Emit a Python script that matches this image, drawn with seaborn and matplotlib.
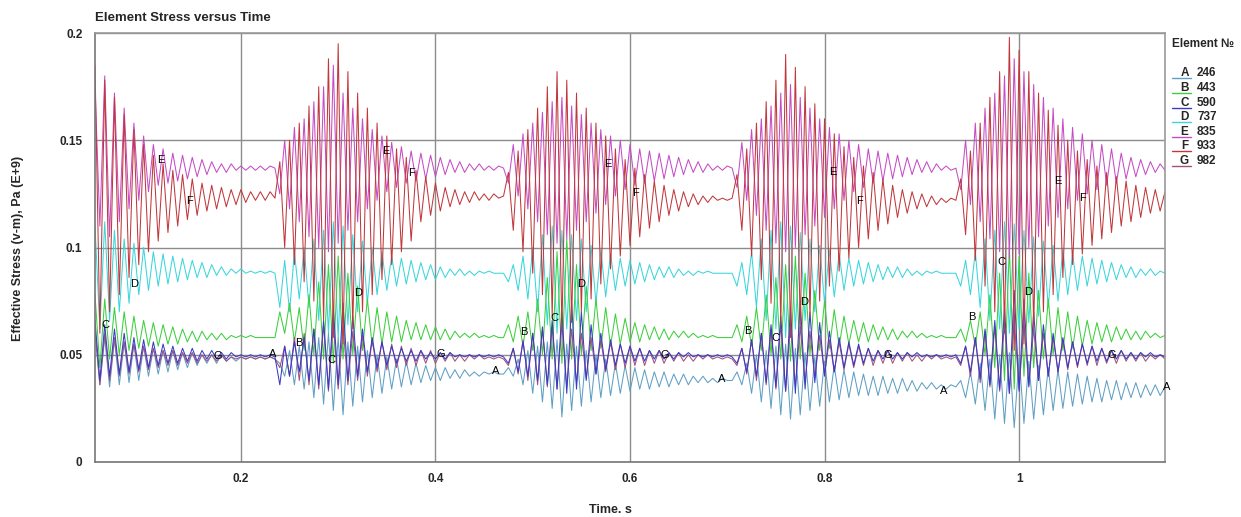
import numpy as np
import pandas as pd
import matplotlib
matplotlib.use("Agg")
import matplotlib.pyplot as plt
import seaborn as sns
from matplotlib.lines import Line2D
from matplotlib.ticker import MultipleLocator

# ---------------- data (stress in units of 1e-3 * E+9 Pa) ----------------
time = np.round(0.05 + 0.005 * np.arange(221), 4)   # sample times, s

A = [60,36,58,35,57,36,56,37,55,38, 54,40,53,41,52,42,52,43,51,44, 51,45,50,46,50,46,50,47,49,47, 49,48,49,48,49,48,49,48,
     46,40,52,36,54,34,56,30,58,27, 60,24,58,22,56,26,54,28,52,30, 50,32,49,34,48,35,47,36,
     46,37,45,38,44,38,44,39,43,39, 43,40,42,40,42,41,42,41,41,
     44,40,48,36,52,32,54,28,56,25, 57,21,55,24,54,26,52,28,50,30, 48,31,46,32,45,33,44,34,
     43,34,42,35,42,35,41,36,41,36, 40,37,40,37,39,37,39,38,38,
     42,36,46,32,50,28,52,25,54,22, 55,20,53,22,51,24,49,26,47,28, 45,29,43,30,42,31,41,31,
     40,31,40,32,39,32,39,33,38,33, 37,34,37,34,36,34,36,35,
     38,30,42,27,46,24,48,20,50,18, 51,16,49,18,47,20,45,22,44,24, 43,25,42,26,41,27,40,28,
     39,28,38,29,38,29,37,30,37,30, 36,31,36,31,35]

B = [78,44,76,48,72,50,70,52,68,53, 66,54,65,54,64,55,63,55,62,56, 61,56,61,57,60,57,60,57,59,58, 59,58,59,58,58,58,58,58,
     70,60,74,56,72,52,78,50,84,48, 92,46,96,48,88,50,82,52,76,54, 72,55,70,56,68,56,66,57,
     65,57,64,57,63,57,62,57,61,58, 60,58,60,58,59,58,59,58,58,
     64,56,68,54,70,52,76,50,86,48, 98,46,104,48,92,50,82,52,76,53, 72,54,69,55,67,56,65,56,
     64,57,63,57,62,57,61,58,61,58, 60,58,59,58,59,58,58,58,58,
     64,56,68,54,72,52,78,50,86,48, 92,47,96,48,88,50,80,52,75,53, 71,54,68,55,66,56,65,56,
     64,57,63,57,62,57,61,58,61,58, 60,58,59,58,59,58,58,58,
     62,56,66,54,70,50,78,44,88,38, 100,34,96,40,88,44,80,48,76,50, 72,52,70,53,68,54,66,55,
     65,56,64,56,63,57,62,57,61,57, 61,58,60,58,59]

C = [66,38,64,40,62,41,60,42,58,43, 57,44,56,45,55,46,54,46,53,47, 53,47,52,48,52,48,51,48,51,49, 50,49,50,49,50,49,50,49,
     36,54,40,56,42,58,38,62,36,66, 34,72,36,74,38,68,40,62,42,58, 44,56,45,54,46,53,47,52,
     47,52,48,51,48,51,48,51,49,50, 49,50,49,50,49,50,49,50,49,
     46,53,42,56,40,60,38,63,36,66, 34,70,32,74,34,70,38,64,41,60, 43,57,45,55,46,54,47,53,
     47,52,48,52,48,51,48,51,49,51, 49,50,49,50,49,50,49,50,49,
     46,53,42,57,40,60,37,64,35,68, 33,72,32,75,34,70,37,65,40,61, 42,58,44,56,45,55,46,53,
     47,52,48,52,48,51,48,51,49,51, 49,50,49,50,49,50,49,50,
     46,54,42,58,39,62,36,66,34,72, 32,80,33,76,35,70,38,64,40,60, 42,58,44,56,45,55,46,54,
     47,53,47,52,48,52,48,51,48,51, 49,51,49,50,49]

D = [110,62,112,66,108,70,104,74,102,78, 100,80,98,82,97,83,96,84,95,85, 94,86,93,86,92,87,91,87,90,88, 90,88,89,88,89,88,89,88,
     72,94,70,98,76,100,72,104,66,108, 60,112,58,110,64,106,70,103,74,100, 78,98,80,96,82,95,83,94,
     84,93,85,92,85,91,86,90,87,90, 87,89,87,89,88,89,88,88,88,
     84,92,80,96,76,100,70,106,64,110, 60,108,62,106,66,104,70,101,74,99, 77,97,80,95,82,94,83,93,
     84,92,85,91,86,91,86,90,87,89, 87,89,88,89,88,88,88,88,88,
     82,93,78,98,72,104,66,108,62,112, 58,110,62,107,66,104,70,101,74,99, 77,97,80,95,82,94,83,93,
     84,92,85,91,86,91,86,90,87,89, 87,89,88,89,88,88,88,88,
     82,94,78,98,72,104,66,108,62,112, 60,111,62,108,65,105,68,103,72,101, 75,99,78,97,80,96,82,95,
     83,94,84,93,85,92,86,91,86,90, 87,90,87,89,88]

E = [175,110,180,105,172,112,165,118,158,122, 152,126,148,129,146,130,144,131,143,132, 142,133,141,134,140,135,139,135,139,136, 138,136,138,136,138,136,138,137,
     125,150,118,156,112,160,105,168,100,175, 98,185,102,172,108,165,112,160,118,155, 122,152,126,149,128,147,130,145,
     131,144,132,143,133,142,134,141,135,140, 135,139,136,139,136,138,136,138,137,
     130,148,124,153,118,158,112,163,106,168, 102,170,104,166,108,162,112,158,116,155, 120,152,124,150,127,148,129,146,
     130,145,131,144,132,143,133,142,134,141, 135,140,135,139,136,138,136,138,137,
     128,149,122,155,115,160,108,166,102,172, 98,176,100,170,106,165,110,160,114,156, 118,153,122,150,126,148,128,146,
     130,145,131,144,132,143,133,142,134,141, 135,140,135,139,136,138,136,137,
     127,150,120,158,112,165,104,172,98,180, 95,188,97,182,100,176,105,170,110,165, 114,160,118,156,122,153,125,150,
     127,148,129,146,130,144,132,142,133,141, 134,140,135,139,136]

F = [185,60,178,70,170,78,162,86,155,92, 148,98,143,103,139,107,136,110,134,113, 132,115,130,117,129,118,128,119,127,120, 127,121,126,122,126,122,126,123,
     140,100,150,92,158,84,166,75,175,66, 188,58,195,55,182,62,172,70,165,78, 158,85,152,92,146,98,142,103,
     136,112,133,115,130,117,128,119,127,120, 126,121,126,122,125,122,125,123,124,
     135,108,145,98,155,88,165,78,175,68, 182,62,178,65,172,70,165,76,158,83, 152,90,146,96,141,101,137,105,
     134,109,131,112,129,115,127,117,126,119, 125,120,124,121,124,122,123,122,123,
     134,108,146,96,158,85,168,74,178,64, 190,58,184,62,175,68,167,75,160,82, 153,89,147,95,142,100,138,104,
     135,108,132,111,129,114,127,116,126,118, 125,119,124,120,123,121,123,122,
     132,106,145,94,158,82,170,70,182,60, 198,52,192,55,182,62,172,70,164,78, 157,86,150,92,145,97,141,101,
     138,104,135,107,133,110,131,112,129,114, 128,116,127,117,126]

G = [62,36,60,38,58,40,56,41,55,42, 54,43,53,44,52,45,52,45,51,46, 51,46,50,47,50,47,50,47,49,48, 49,48,49,48,49,48,49,48,
     44,54,40,58,38,60,36,62,34,64, 33,65,34,63,36,61,38,59,40,57, 42,56,43,55,44,54,45,53,
     45,52,46,52,46,51,47,51,47,50, 47,50,48,50,48,49,48,49,48,
     45,53,41,57,38,60,36,62,35,63, 34,64,35,62,37,60,39,58,41,57, 42,56,43,55,44,54,45,53,
     45,52,46,52,46,51,47,51,47,50, 47,50,48,50,48,49,48,49,48,
     45,53,41,57,38,60,36,62,34,64, 33,65,35,63,37,61,39,59,41,57, 42,56,43,55,44,54,45,53,
     45,52,46,52,46,51,47,51,47,50, 47,50,48,50,48,49,48,49,
     45,54,40,58,37,61,35,63,33,65, 32,66,34,64,36,62,38,60,40,58, 42,57,43,56,44,55,45,54,
     45,53,46,52,46,52,47,51,47,51, 47,50,48,50,48]

letters = ["A", "B", "C", "D", "E", "F", "G"]
element_ids = ["246", "443", "590", "737", "835", "933", "982"]
colors = ["#5f9fc4", "#3ccf3c", "#3a3ac4", "#3ad6dc", "#c64cc6", "#c0383c", "#a2507a"]

# curve letter labels (time, value)
label_t = {
    "A": [0.233, 0.462, 0.694, 0.922, 1.152],
    "B": [0.260, 0.491, 0.721, 0.951],
    "C": [0.061, 0.293, 0.522, 0.750, 0.982],
    "D": [0.090, 0.320, 0.550, 0.779, 1.009],
    "E": [0.118, 0.349, 0.577, 0.809, 1.040],
    "F": [0.147, 0.375, 0.606, 0.836, 1.065],
    "G": [0.176, 0.406, 0.636, 0.865, 1.095],
}
label_v = {
    "A": [0.0504, 0.0425, 0.0388, 0.0332, 0.0350],
    "B": [0.0556, 0.0607, 0.0612, 0.0677],
    "C": [0.0640, 0.0476, 0.0672, 0.0579, 0.0934],
    "D": [0.0831, 0.0789, 0.0831, 0.0747, 0.0794],
    "E": [0.1406, 0.1452, 0.1387, 0.1354, 0.1312],
    "F": [0.1219, 0.1345, 0.1252, 0.1219, 0.1233],
    "G": [0.0495, 0.0504, 0.0500, 0.0500, 0.0500],
}

series = {"A": A, "B": B, "C": C, "D": D, "E": E, "F": F, "G": G}
for k, v in series.items():
    assert len(v) == len(time), (k, len(v))

df = pd.concat(
    [pd.DataFrame({"t": time, "v": np.array(v) / 1000.0, "elem": k}) for k, v in series.items()],
    ignore_index=True,
)

# ---------------- figure ----------------
sns.set_style("white")
plt.rcParams["font.family"] = ["Liberation Sans", "DejaVu Sans"]

W, H = 1241, 517
fig = plt.figure(figsize=(W / 100, H / 100), dpi=100)
ax = fig.add_axes([95 / W, 55 / H, 1070 / W, 429 / H])

palette = dict(zip(letters, colors))
draw_order = ["D", "B", "A", "G", "C", "E", "F"]
sns.lineplot(data=df, x="t", y="v", hue="elem", hue_order=draw_order, palette=palette,
             estimator=None, sort=False, lw=0.75, legend=False, ax=ax)

ax.set_xlim(0.05, 1.15)
ax.set_ylim(0, 0.2)
ax.set_xticks([0.2, 0.4, 0.6, 0.8, 1.0])
ax.set_xticklabels(["0.2", "0.4", "0.6", "0.8", "1"])
ax.set_yticks([0, 0.05, 0.1, 0.15, 0.2])
ax.set_yticklabels(["0", "0.05", "0.1", "0.15", "0.2"])
ax.xaxis.set_minor_locator(MultipleLocator(0.1))
ax.yaxis.set_minor_locator(MultipleLocator(0.025))
ax.grid(True, which="major", color="#8c8c8c", lw=1.0)
ax.tick_params(which="major", direction="out", length=7, width=1, color="#8c8c8c",
               labelsize=8.5)
ax.tick_params(axis="x", which="major", pad=1)
ax.tick_params(axis="y", which="major", pad=2)
ax.tick_params(which="minor", direction="in", length=5, width=1, color="#333333")
for lab in ax.get_xticklabels() + ax.get_yticklabels():
    lab.set_fontweight("bold")
ax.set_xlabel("")
ax.set_ylabel("")
for side in ["top", "right"]:
    ax.spines[side].set_color("#9a9a9a")
for side in ["left", "bottom"]:
    ax.spines[side].set_color("#777777")
for s in ax.spines.values():
    s.set_linewidth(1.2)

# curve letters
for k in letters:
    for tx, vy in zip(label_t[k], label_v[k]):
        ax.text(tx, vy, k, ha="center", va="center", fontsize=8, color="black", clip_on=False)

# titles / axis labels
fig.text(95 / W, 1 - 18 / H, "Element Stress versus Time", ha="left", va="center",
         fontsize=9.5, fontweight="bold")
fig.text(18 / W, 1 - 248 / H, "Effective Stress (v-m), Pa (E+9)", rotation=90,
         ha="center", va="center", fontsize=9, fontweight="bold")
fig.text(610 / W, 1 - 510 / H, "Time. s", ha="center", va="center",
         fontsize=9, fontweight="bold")

# legend
fig.text(1172 / W, 1 - 44 / H, "Element №", ha="left", va="center",
         fontsize=8.5, fontweight="bold")
for i, (k, eid, c) in enumerate(zip(letters, element_ids, colors)):
    yc = 73.3 + 14.6 * i
    fig.text(1184.5 / W, 1 - yc / H, k, ha="center", va="center", fontsize=8.5, fontweight="bold")
    fig.text(1197 / W, 1 - yc / H, eid, ha="left", va="center", fontsize=8.5, fontweight="bold")
    fig.add_artist(Line2D([1172 / W, 1191 / W], [1 - (yc + 5) / H, 1 - (yc + 5) / H],
                          color=c, lw=1.0, transform=fig.transFigure))

fig.savefig("out.png", dpi=100)
